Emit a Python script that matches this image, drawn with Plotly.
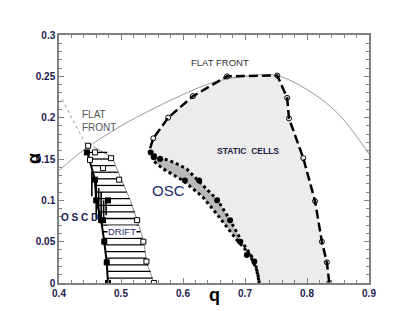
import plotly.graph_objects as go

# ---------------- data ----------------
# flat-front boundary (thin gray curve)
ff_q = [0.40, 0.44, 0.50, 0.55, 0.60, 0.65, 0.70, 0.75, 0.80, 0.85, 0.90]
ff_a = [0.136, 0.161, 0.190, 0.210, 0.228, 0.243, 0.250, 0.251, 0.234, 0.205, 0.156]

# left flat-front pointer (dotted gray)
ffl_q = [0.405, 0.445]
ffl_a = [0.222, 0.165]

# static cells boundary (dashed, open circles)
st_q = [0.547, 0.552, 0.576, 0.616, 0.671, 0.752, 0.768, 0.771, 0.794, 0.813, 0.824, 0.832, 0.836]
st_a = [0.163, 0.175, 0.200, 0.226, 0.250, 0.251, 0.224, 0.199, 0.151, 0.099, 0.050, 0.025, 0.0]

# OSC region boundaries (dotted)
oscu_q = [0.545, 0.552, 0.563, 0.585, 0.606, 0.627, 0.656, 0.676, 0.695, 0.716, 0.723]
oscu_a = [0.160, 0.156, 0.152, 0.146, 0.138, 0.122, 0.100, 0.076, 0.050, 0.026, 0.0]
oscl_q = [0.545, 0.555, 0.568, 0.600, 0.632, 0.656, 0.687, 0.708, 0.720, 0.723]
oscl_a = [0.160, 0.146, 0.138, 0.124, 0.104, 0.082, 0.052, 0.034, 0.014, 0.0]
oscd_q = [0.548, 0.553, 0.563, 0.603, 0.626, 0.655, 0.676, 0.692, 0.703, 0.715]
oscd_a = [0.158, 0.152, 0.150, 0.124, 0.124, 0.100, 0.076, 0.050, 0.034, 0.026]

# drift / OSCD striped region
stripe_a = [0.158, 0.150, 0.142, 0.134, 0.126, 0.118, 0.110, 0.102, 0.094, 0.086,
            0.078, 0.070, 0.062, 0.054, 0.046, 0.038, 0.030, 0.022, 0.014, 0.006]
stripe_ql = [0.447, 0.449, 0.451, 0.453, 0.456, 0.457, 0.458, 0.460, 0.462, 0.464,
             0.468, 0.469, 0.470, 0.471, 0.472, 0.474, 0.476, 0.477, 0.478, 0.479]
stripe_qr = [0.478, 0.486, 0.490, 0.495, 0.500, 0.505, 0.509, 0.514, 0.518, 0.522,
             0.526, 0.528, 0.531, 0.534, 0.537, 0.539, 0.541, 0.544, 0.548, 0.551]
vbar_q = [0.453, 0.460, 0.464, 0.468, 0.472, 0.476]
vbar_a0 = [0.135, 0.125, 0.115, 0.110, 0.100, 0.098]
vbar_a1 = [0.105, 0.078, 0.076, 0.078, 0.080, 0.082]
drift_left_q = [0.445, 0.458, 0.460, 0.468, 0.473, 0.477, 0.479]
drift_left_a = [0.160, 0.125, 0.100, 0.076, 0.050, 0.025, 0.0]
drift_right_q = [0.455, 0.486, 0.500, 0.515, 0.526, 0.537, 0.541, 0.553]
drift_right_a = [0.165, 0.152, 0.126, 0.100, 0.076, 0.050, 0.026, 0.0]
fsq_q = [0.445, 0.458, 0.460, 0.479, 0.468, 0.471, 0.473, 0.477, 0.479]
fsq_a = [0.158, 0.125, 0.100, 0.100, 0.076, 0.076, 0.050, 0.025, 0.0]
osq_q = [0.447, 0.458, 0.450, 0.471, 0.484, 0.497, 0.526, 0.536, 0.541, 0.553]
osq_a = [0.166, 0.158, 0.149, 0.139, 0.151, 0.125, 0.076, 0.050, 0.026, 0.0]

x_ticks = [0.4, 0.5, 0.6, 0.7, 0.8, 0.9]
y_ticks = [0, 0.05, 0.1, 0.15, 0.2, 0.25, 0.3]

# ---------------- figure ----------------
fig = go.Figure()

# static cells fill
fill_q = st_q + [oscu_q[-1]] + oscu_q[::-1]
fill_a = st_a + [0.0] + oscu_a[::-1]
fig.add_trace(go.Scatter(x=fill_q, y=fill_a, mode="lines", fill="toself",
                         fillcolor="#ececec", line=dict(width=0), hoverinfo="skip"))
# OSC fill
fig.add_trace(go.Scatter(x=oscu_q + oscl_q[::-1], y=oscu_a + oscl_a[::-1], mode="lines",
                         fill="toself", fillcolor="#b9b9b9", line=dict(width=0)))

# flat front curve
fig.add_trace(go.Scatter(x=ff_q, y=ff_a, mode="lines", line=dict(color="#9a9a9a", width=1, shape="spline")))
fig.add_trace(go.Scatter(x=ffl_q, y=ffl_a, mode="lines", line=dict(color="#9a9a9a", width=1, dash="dot")))

# static boundary
fig.add_trace(go.Scatter(x=st_q, y=st_a, mode="lines", line=dict(color="black", width=2.5, dash="9px,4px")))
fig.add_trace(go.Scatter(x=st_q[1:], y=st_a[1:], mode="markers",
                         marker=dict(symbol="circle-open", size=5, color="black", line=dict(width=1))))

# OSC boundaries
fig.add_trace(go.Scatter(x=oscu_q, y=oscu_a, mode="lines", line=dict(color="black", width=3, dash="dot")))
fig.add_trace(go.Scatter(x=oscl_q, y=oscl_a, mode="lines", line=dict(color="black", width=3, dash="dot")))
fig.add_trace(go.Scatter(x=oscd_q, y=oscd_a, mode="markers", marker=dict(symbol="circle", size=6, color="black")))

# drift region boundaries (thin gray)
fig.add_trace(go.Scatter(x=drift_right_q, y=drift_right_a, mode="lines", line=dict(color="#8a8a8a", width=1)))

# stripes
sx, sy = [], []
for a, ql, qr in zip(stripe_a, stripe_ql, stripe_qr):
    sx += [ql, qr, None]
    sy += [a, a, None]
fig.add_trace(go.Scatter(x=sx, y=sy, mode="lines", line=dict(color="black", width=1.3)))
vx, vy = [], []
for q, a0, a1 in zip(vbar_q, vbar_a0, vbar_a1):
    vx += [q, q, None]
    vy += [a0, a1, None]
fig.add_trace(go.Scatter(x=vx, y=vy, mode="lines", line=dict(color="black", width=1.6)))
fig.add_trace(go.Scatter(x=drift_left_q, y=drift_left_a, mode="lines", line=dict(color="black", width=2)))

fig.add_trace(go.Scatter(x=osq_q, y=osq_a, mode="markers",
                         marker=dict(symbol="square", size=5, color="white", line=dict(width=1, color="black"))))
fig.add_trace(go.Scatter(x=fsq_q, y=fsq_a, mode="markers",
                         marker=dict(symbol="square", size=6, color="black")))

# labels
fig.add_annotation(x=0.66, y=0.2665, text="FLAT FRONT", showarrow=False,
                   font=dict(size=9.5, family="Liberation Sans", color="#333"))
fig.add_annotation(x=0.705, y=0.160, text="<b>STATIC  CELLS</b>", showarrow=False,
                   font=dict(size=8.5, family="Liberation Sans", color="#222244"))
fig.add_annotation(x=0.577, y=0.112, text="OSC", showarrow=False,
                   font=dict(size=15, family="Liberation Sans", color="#1a2a6a"))
fig.add_annotation(x=0.433, y=0.079, text="<b>O S C D</b>", showarrow=False,
                   font=dict(size=10, family="Liberation Sans", color="#1a2050"))
fig.add_annotation(x=0.502, y=0.062, text="DRIFT", showarrow=False, bgcolor="white", borderpad=0,
                   font=dict(size=9.5, family="Liberation Sans", color="#2a2a6a"))
fig.add_annotation(x=0.434, y=0.196, text="FLAT<br>FRONT", showarrow=False, xanchor="left", align="left",
                   font=dict(size=10, family="Liberation Sans", color="#555"))
# axis titles
fig.add_annotation(xref="paper", yref="paper", x=0.5, y=-0.048, text="<b>q</b>", showarrow=False,
                   yanchor="middle", font=dict(size=18, family="Liberation Sans", color="black"))
fig.add_annotation(xref="paper", yref="paper", x=-0.119, y=0.5, text="<b>α</b>", showarrow=False,
                   textangle=-90, font=dict(size=18, family="Liberation Sans", color="black"))

axis_common = dict(showgrid=False, zeroline=False, showline=True, linecolor="#808080", linewidth=1.5,
                   mirror="allticks", ticks="inside", ticklen=5, tickwidth=1.2, tickcolor="#808080",
                   tickfont=dict(size=10, family="Liberation Sans", color="#1c2050", weight="bold"))
fig.update_xaxes(range=[0.4, 0.9], tickvals=x_ticks, ticktext=[str(v) for v in x_ticks],
                 minor=dict(dtick=0.02, ticks="inside", ticklen=3, tickcolor="#808080"), **axis_common)
fig.update_yaxes(range=[0, 0.3], tickvals=y_ticks, ticktext=[str(v) for v in y_ticks],
                 minor=dict(dtick=0.01, ticks="inside", ticklen=3, tickcolor="#808080"), **axis_common)

# page body has an 8px margin: size the figure so the plot area lands where the reference has it
fig.update_layout(width=407, height=303, margin=dict(l=51, r=46, t=27, b=26),
                  paper_bgcolor="white", plot_bgcolor="white", showlegend=False)

fig.write_html("out.html")
